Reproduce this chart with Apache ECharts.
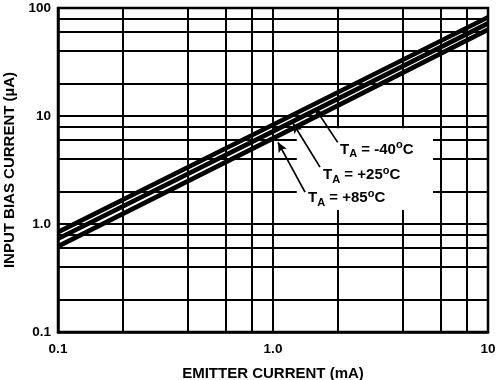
<!DOCTYPE html>
<html>
<head>
<meta charset="utf-8">
<script src="https://cdn.jsdelivr.net/npm/echarts@6/dist/echarts.min.js"></script>
<style>
html, body { margin: 0; padding: 0; background: #fff; }
#chart { width: 504px; height: 380px; }
</style>
</head>
<body>
<div id="chart"></div>
<script>
// emitter current (mA) and input bias current (uA) per temperature
var emitterCurrent = [0.1, 1, 10];
var biasM40 = [0.84, 8.3, 82];
var bias25 = [0.73, 7.2, 72];
var bias85 = [0.62, 6.2, 63];

// grid lines between decades
var xMinorGrid = [0.2, 0.4, 0.6, 0.8, 2, 4, 6, 8];
var yMinorGrid = [0.2, 0.4, 0.6, 0.8, 2, 4, 6, 8, 20, 40, 60, 80];

var xTickLabels = { '0.1': '0.1', '1': '1.0', '10': '10' };
var yTickLabels = { '0.1': '0.1', '1': '1.0', '10': '10', '100': '100' };

// annotations (data coordinates)
var tempLabels = ['-40', '+25', '+85'];
var labelAt = [[2.05, 4.87], [1.71, 2.83], [1.455, 1.735]];
var arrowFrom = [[2.0, 5.7], [1.654, 3.36], [1.409, 1.97]];
var arrowTo = [[1.57, 11.8], [1.239, 8.56], [1.055, 5.71]];
var labelMask = [[1.29, 7.7], [5.55, 1.35]];

var font = 'Liberation Sans';

function pairs(ys) {
	var out = [];
	for (var i = 0; i < emitterCurrent.length; i++) {
		out.push([emitterCurrent[i], ys[i]]);
	}
	return out;
}

function tickName(map, v) {
	var k = String(Number(v.toPrecision(3)));
	return map[k] !== undefined ? map[k] : '';
}

var gridLines = [];
for (var i = 0; i < xMinorGrid.length; i++) gridLines.push({ xAxis: xMinorGrid[i] });
for (var j = 0; j < yMinorGrid.length; j++) gridLines.push({ yAxis: yMinorGrid[j] });

var arrows = [];
var labels = [];
for (var k = 0; k < tempLabels.length; k++) {
	arrows.push([{ coord: arrowFrom[k] }, { coord: arrowTo[k] }]);
	labels.push({
		coord: labelAt[k],
		label: {
			formatter: '{t|T}{s|A}{t| = ' + tempLabels[k] + '}{o|o}{t|C}'
		}
	});
}

var curveStyle = { color: '#000', width: 4.6 };
var axisName = { fontFamily: font, fontWeight: 'bold', fontSize: 15, color: '#000' };

var myChart = echarts.init(document.getElementById('chart'));
var option = {
	animation: false,
	grid: {
		left: 58, right: 16, top: 8, bottom: 48,
		outerBoundsMode: 'none', containLabel: false,
		show: true, borderColor: '#000', borderWidth: 2.5
	},
	xAxis: {
		type: 'log', logBase: 10, min: 0.1, max: 10,
		name: 'EMITTER CURRENT (mA)', nameLocation: 'middle', nameGap: 34,
		nameTextStyle: axisName,
		axisLine: { show: true, lineStyle: { color: '#000', width: 2.5 } },
		axisTick: { show: false },
		axisLabel: {
			margin: 10, fontFamily: font, fontWeight: 'bold', fontSize: 13.5, color: '#000',
			formatter: function (v) { return tickName(xTickLabels, v); }
		},
		splitLine: { show: true, lineStyle: { color: '#000', width: 2 } }
	},
	yAxis: {
		type: 'log', logBase: 10, min: 0.1, max: 100,
		name: 'INPUT BIAS CURRENT (\u00b5A)', nameLocation: 'middle', nameGap: 37,
		nameTextStyle: axisName,
		axisLine: { show: true, lineStyle: { color: '#000', width: 2.5 } },
		axisTick: { show: false },
		axisLabel: {
			margin: 7, fontFamily: font, fontWeight: 'bold', fontSize: 13.5, color: '#000',
			formatter: function (v) { return tickName(yTickLabels, v); }
		},
		splitLine: { show: true, lineStyle: { color: '#000', width: 2 } }
	},
	series: [
		{
			name: 'grid', type: 'line', data: [], z: 1, silent: true,
			markLine: {
				z: 1, silent: true, symbol: ['none', 'none'], animation: false,
				label: { show: false },
				lineStyle: { color: '#000', width: 2, type: 'solid' },
				data: gridLines
			}
		},
		{
			name: 'mask', type: 'line', data: [], z: 2, silent: true,
			markArea: {
				z: 2, silent: true, animation: false,
				itemStyle: { color: '#fff', opacity: 1 },
				data: [[{ coord: labelMask[0] }, { coord: labelMask[1] }]]
			}
		},
		{ name: 'TA = -40°C', type: 'line', data: pairs(biasM40), showSymbol: false, lineStyle: curveStyle, z: 3 },
		{ name: 'TA = +25°C', type: 'line', data: pairs(bias25), showSymbol: false, lineStyle: curveStyle, z: 3 },
		{ name: 'TA = +85°C', type: 'line', data: pairs(bias85), showSymbol: false, lineStyle: curveStyle, z: 3 },
		{
			name: 'notes', type: 'line', data: [], z: 4, silent: true,
			markLine: {
				z: 4, silent: true, animation: false,
				symbol: ['none', 'arrow'], symbolSize: [7, 10],
				label: { show: false },
				lineStyle: { color: '#000', width: 1.7, type: 'solid' },
				data: arrows
			},
			markPoint: {
				z: 4, silent: true, animation: false,
				symbol: 'circle', symbolSize: 0,
				label: {
					show: true, position: 'right', distance: 0,
					rich: {
						t: { fontFamily: font, fontWeight: 'bold', fontSize: 15, color: '#000', lineHeight: 20, verticalAlign: 'middle' },
						s: { fontFamily: font, fontWeight: 'bold', fontSize: 11, color: '#000', lineHeight: 11, verticalAlign: 'bottom' },
						o: { fontFamily: font, fontWeight: 'bold', fontSize: 11, color: '#000', lineHeight: 11, verticalAlign: 'top' }
					}
				},
				data: labels
			}
		}
	]
};

myChart.setOption(option);
</script>
</body>
</html>
